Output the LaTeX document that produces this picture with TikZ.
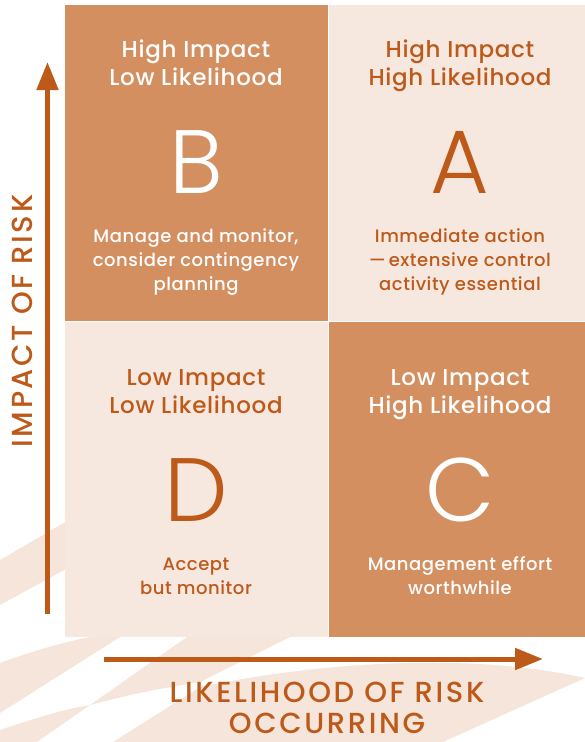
\documentclass[tikz,border=0pt]{standalone}
\usepackage{fontspec}
\setmainfont{Poppins}
\newfontfamily\letterfont{Poppins Light}
\newfontfamily\headfont[LetterSpace=3]{Poppins Medium}
\newfontfamily\axisfont[LetterSpace=9]{Poppins Medium}
\usetikzlibrary{arrows.meta}
\definecolor{riskdark}{HTML}{D48F60}
\definecolor{risklight}{HTML}{F6E7DF}
\definecolor{riskorange}{HTML}{BD5A1A}
\definecolor{riskstripe}{HTML}{F6E5DA}
\tikzset{
  quadhead/.style={font=\headfont\fontsize{23}{28}\selectfont, align=center, anchor=base, inner sep=0pt},
  quadletter/.style={font=\letterfont\fontsize{90}{90}\selectfont, anchor=base, inner sep=0pt},
  quaddesc/.style={font=\headfont\fontsize{18}{24}\selectfont, align=center, anchor=base, inner sep=0pt},
  axislabel/.style={font=\axisfont\fontsize{29}{31}\selectfont, text=riskorange, align=center, inner sep=0pt},
  axisarrow/.style={draw=riskorange, line width=5pt, -{Triangle[length=28pt,width=21pt]}},
}
\begin{document}
\begin{tikzpicture}[x=1pt, y=-1pt]
  \useasboundingbox (0,0) rectangle (585,742);
  \begin{scope}[fill=riskstripe]
    \fill (0,560) -- (110,496) -- (110,545) -- (0,605) -- cycle;
    \fill (0,663) .. controls (30,652) and (60,643) .. (90,637) -- (120,637) -- (0,713) -- cycle;
    \fill (0,730) .. controls (30,720) and (60,710) .. (90,705) -- (37,742) -- (0,742) -- cycle;
    \fill (90,705) -- (187,637) -- (290,637) -- (200,682) .. controls (150,690) and (120,697) .. (90,705) -- cycle;
    \fill (113,742) -- (200,687) .. controls (320,662) and (470,652) .. (585,678) -- (443,742) -- cycle;
  \end{scope}
  \fill[riskdark] (65,5) rectangle (327.5,320.5);
  \fill[risklight] (328.5,5) rectangle (585,320.5);
  \fill[risklight] (65,321.5) rectangle (327.5,637);
  \fill[riskdark] (328.5,321.5) rectangle (585,637);

  \node[quadhead, text=white] (headB) at (196,85) {High Impact\\Low Likelihood};
  \node[quadletter, text=white] (letterB) at (196,193) {B};
  \node[quaddesc, text=white] (descB) at (196,290) {Manage and monitor,\\consider contingency\\planning};

  \node[quadhead, text=riskorange] (headA) at (460,85) {High Impact\\High Likelihood};
  \node[quadletter, text=riskorange] (letterA) at (460,193) {A};
  \node[quaddesc, text=riskorange] (descA) at (460,290) {Immediate action\\—\,extensive control\\activity essential};

  \node[quadhead, text=riskorange] (headD) at (196,413) {Low Impact\\Low Likelihood};
  \node[quadletter, text=riskorange] (letterD) at (196,521) {D};
  \node[quaddesc, text=riskorange] (descD) at (196,594) {Accept\\but monitor};

  \node[quadhead, text=white] (headC) at (460,413) {Low Impact\\High Likelihood};
  \node[quadletter, text=white] (letterC) at (460,521) {C};
  \node[quaddesc, text=white] (descC) at (460,594) {Management effort\\worthwhile};

  \coordinate (ylow) at (47.5,614);
  \coordinate (yhigh) at (47.5,62);
  \coordinate (xlow) at (104,659);
  \coordinate (xhigh) at (543,659);
  \draw[axisarrow] (ylow) -- (yhigh);
  \draw[axisarrow] (xlow) -- (xhigh);

  \node[axislabel, rotate=90] (ylabel) at (22,321) {IMPACT OF RISK};
  \node[axislabel, anchor=base] (xlabel) at (327,733) {LIKELIHOOD OF RISK\\OCCURRING};
\end{tikzpicture}
\end{document}
